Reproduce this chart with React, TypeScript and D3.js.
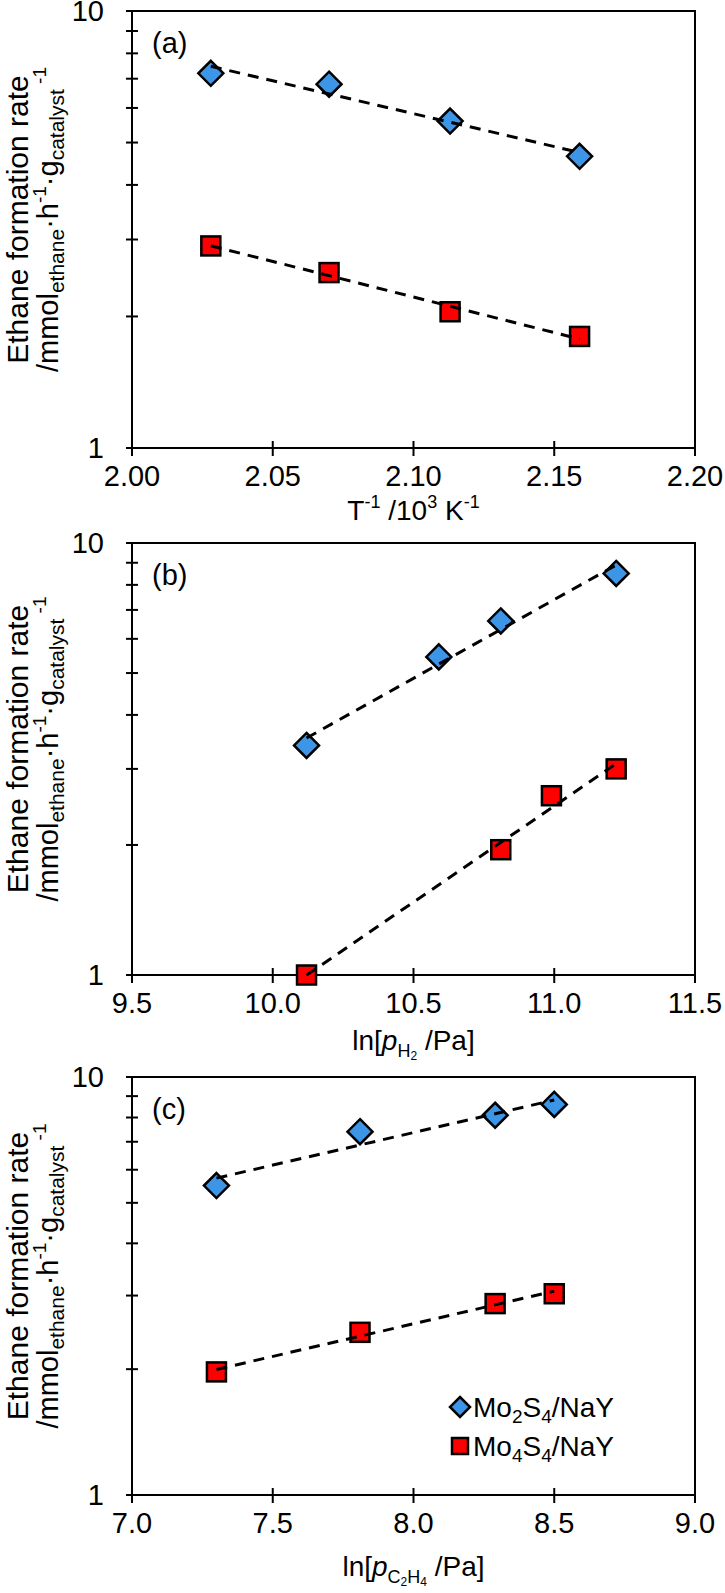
import * as d3 from "d3";

// panel (a): Arrhenius plot
const xA = [2.028, 2.07, 2.113, 2.159];
const mo2A = [7.2, 6.8, 5.6, 4.65];
const mo4A = [2.9, 2.52, 2.05, 1.8];
// panel (b): H2 pressure
const xB2 = [10.12, 10.59, 10.81, 11.22];
const mo2B = [3.4, 5.45, 6.6, 8.5];
const xB4 = [10.12, 10.81, 10.99, 11.22];
const mo4B = [1.0, 1.95, 2.6, 3.0];
// panel (c): C2H4 pressure
const xC = [7.3, 7.81, 8.29, 8.5];
const mo2C = [5.5, 7.4, 8.1, 8.6];
const mo4C = [1.97, 2.45, 2.87, 3.03];

const ticksA = [2.0, 2.05, 2.1, 2.15, 2.2];
const ticksB = [9.5, 10.0, 10.5, 11.0, 11.5];
const ticksC = [7.0, 7.5, 8.0, 8.5, 9.0];
const yMajor = [1, 10];
const yMinor = [2, 3, 4, 5, 6, 7, 8, 9];

const BLUE = "#3D95E8";
const RED = "#FF0000";
const FONT = "'Liberation Sans', Arial, sans-serif";
const L = 132, R = 695;

function fitLine(xs: number[], ys: number[]) {
  const ly = ys.map(Math.log10);
  const mx = d3.mean(xs)!, my = d3.mean(ly)!;
  const b = d3.sum(xs, (x, i) => (x - mx) * (ly[i] - my)) / d3.sum(xs, x => (x - mx) ** 2);
  const a = my - b * mx;
  const x0 = xs[0], x1 = xs[xs.length - 1];
  return [[x0, 10 ** (a + b * x0)], [x1, 10 ** (a + b * x1)]] as [number, number][];
}

function Diamond({ cx, cy, r = 12.5 }: { cx: number; cy: number; r?: number }) {
  return <path d={`M${cx},${cy - r}L${cx + r},${cy}L${cx},${cy + r}L${cx - r},${cy}Z`} fill={BLUE} stroke="#000" strokeWidth={2.5} />;
}
function Square({ cx, cy, s = 19 }: { cx: number; cy: number; s?: number }) {
  return <rect x={cx - s / 2} y={cy - s / 2} width={s} height={s} fill={RED} stroke="#000" strokeWidth={2.5} />;
}

function YTitle({ cy }: { cy: number }) {
  return (
    <g fontFamily={FONT} fill="#000">
      <text transform={`translate(28,${cy}) rotate(-90)`} textAnchor="middle" fontSize={30}>Ethane formation rate</text>
      <text transform={`translate(58,${cy}) rotate(-90)`} textAnchor="middle" fontSize={29}>
        /mmol<tspan fontSize={21} dy={6}>ethane</tspan>
        <tspan dy={-6}>·h</tspan><tspan fontSize={19} dy={-12}>-1</tspan>
        <tspan dy={12}>·g</tspan><tspan fontSize={21} dy={6}>catalyst</tspan>
        <tspan fontSize={19} dy={-18}> -1</tspan>
      </text>
    </g>
  );
}

interface PanelProps {
  top: number; bottom: number; ticks: number[]; fmt: string; tag: string;
  s1x: number[]; s1y: number[]; s2x: number[]; s2y: number[];
  title: React.ReactNode; titleY: number; legend?: boolean;
}

function Panel({ top, bottom, ticks, fmt, tag, s1x, s1y, s2x, s2y, title, titleY, legend }: PanelProps) {
  const x = d3.scaleLinear().domain([ticks[0], ticks[ticks.length - 1]]).range([L, R]);
  const y = d3.scaleLog().domain([1, 10]).range([bottom, top]);
  const f = d3.format(fmt);
  const line = d3.line<[number, number]>().x(d => x(d[0])).y(d => y(d[1]));
  const fit1 = fitLine(s1x, s1y), fit2 = fitLine(s2x, s2y);
  return (
    <g fontFamily={FONT}>
      <rect x={L} y={top} width={R - L} height={bottom - top} fill="none" stroke="#000" strokeWidth={2} />
      {ticks.map(t => (
        <g key={t}>
          <line x1={x(t)} x2={x(t)} y1={bottom - 7} y2={bottom + 8} stroke="#000" strokeWidth={2} />
          <text x={x(t)} y={bottom + 38} textAnchor="middle" fontSize={29}>{f(t)}</text>
        </g>
      ))}
      {yMajor.map(v => (
        <g key={v}>
          <line x1={L - 6} x2={L} y1={y(v)} y2={y(v)} stroke="#000" strokeWidth={2} />
          <text x={104} y={y(v) + 10} textAnchor="end" fontSize={29}>{v}</text>
        </g>
      ))}
      {yMinor.map(v => (
        <line key={v} x1={L - 6} x2={L + 6} y1={y(v)} y2={y(v)} stroke="#000" strokeWidth={2} />
      ))}
      <text x={152} y={top + 42} fontSize={29}>{tag}</text>
      {s1x.map((v, i) => <Diamond key={i} cx={x(v)} cy={y(s1y[i])} />)}
      {s2x.map((v, i) => <Square key={i} cx={x(v)} cy={y(s2y[i])} />)}
      <path d={line(fit1)!} fill="none" stroke="#000" strokeWidth={3} strokeDasharray="11 8" />
      <path d={line(fit2)!} fill="none" stroke="#000" strokeWidth={3} strokeDasharray="11 8" />
      <g transform={`translate(${(L + R) / 2},${titleY})`}>{title}</g>
      <YTitle cy={(top + bottom) / 2 - 10} />
      {legend && (
        <g fontSize={28}>
          <Diamond cx={460} cy={1407} r={10} />
          <text x={473} y={1417}>Mo<tspan fontSize={19} dy={6}>2</tspan><tspan dy={-6}>S</tspan><tspan fontSize={19} dy={6}>4</tspan><tspan dy={-6}>/NaY</tspan></text>
          <Square cx={460} cy={1446} s={16} />
          <text x={473} y={1456}>Mo<tspan fontSize={19} dy={6}>4</tspan><tspan dy={-6}>S</tspan><tspan fontSize={19} dy={6}>4</tspan><tspan dy={-6}>/NaY</tspan></text>
        </g>
      )}
    </g>
  );
}

export default function App() {
  return (
    <div style={{ position: "absolute", left: 0, top: 0 }}>
      <svg width={725} height={1593} style={{ display: "block", background: "#fff" }}>
        <Panel top={11} bottom={448} ticks={ticksA} fmt=".2f" tag="(a)"
          s1x={xA} s1y={mo2A} s2x={xA} s2y={mo4A} titleY={520}
          title={<text textAnchor="middle" fontSize={28}>T<tspan fontSize={18} dy={-12}>-1</tspan><tspan dy={12}> /10</tspan><tspan fontSize={18} dy={-12}>3</tspan><tspan dy={12}> K</tspan><tspan fontSize={18} dy={-12}>-1</tspan></text>} />
        <Panel top={543} bottom={975} ticks={ticksB} fmt=".1f" tag="(b)"
          s1x={xB2} s1y={mo2B} s2x={xB4} s2y={mo4B} titleY={1050}
          title={<text textAnchor="middle" fontSize={28}>ln[<tspan fontStyle="italic">p</tspan><tspan fontSize={18} dy={7}>H</tspan><tspan fontSize={12} dy={3}>2</tspan><tspan dy={-10}> /Pa]</tspan></text>} />
        <Panel top={1077} bottom={1495} ticks={ticksC} fmt=".1f" tag="(c)"
          s1x={xC} s1y={mo2C} s2x={xC} s2y={mo4C} titleY={1576} legend
          title={<text textAnchor="middle" fontSize={28}>ln[<tspan fontStyle="italic">p</tspan><tspan fontSize={18} dy={7}>C</tspan><tspan fontSize={12} dy={3}>2</tspan><tspan fontSize={18} dy={-3}>H</tspan><tspan fontSize={12} dy={3}>4</tspan><tspan dy={-10}> /Pa]</tspan></text>} />
      </svg>
    </div>
  );
}
